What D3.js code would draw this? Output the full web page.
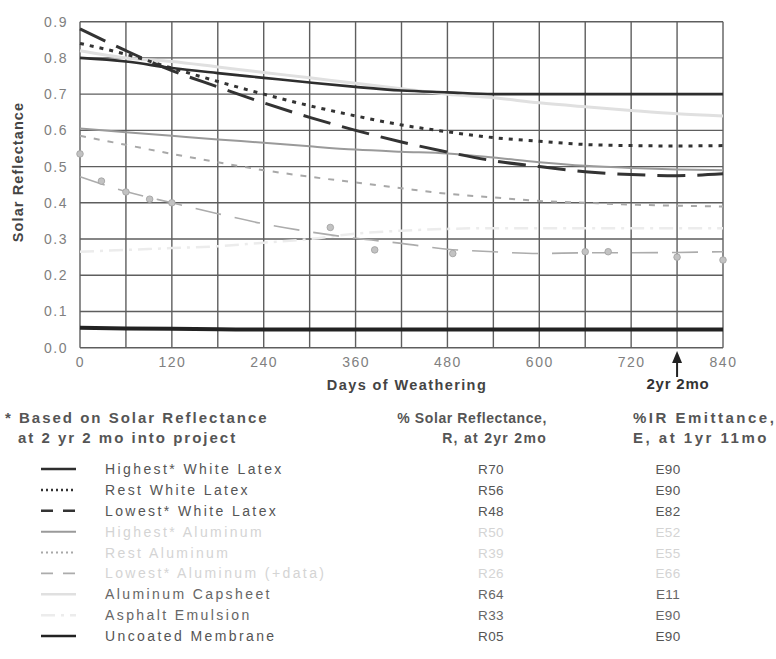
<!DOCTYPE html>
<html>
<head>
<meta charset="utf-8">
<script src="https://cdn.jsdelivr.net/npm/d3@7"></script>
<style>
  html, body { margin: 0; padding: 0; background: #fff; }
  svg { display: block; font-family: "Liberation Sans", Arial, sans-serif; }
</style>
</head>
<body>
<svg id="chart" width="776" height="659"></svg>
<script>
// ---------------- DATA ----------------
const days = [0, 60, 120, 180, 240, 300, 360, 420, 480, 540, 600, 660, 720, 780, 840];
const xTickLabels = [0, 120, 240, 360, 480, 600, 720, 840];
const yTickLabels = [0.0, 0.1, 0.2, 0.3, 0.4, 0.5, 0.6, 0.7, 0.8, 0.9];

const highestWhiteLatex = [0.80, 0.79, 0.772, 0.758, 0.745, 0.732, 0.72, 0.71, 0.705, 0.70, 0.70, 0.70, 0.70, 0.70, 0.70];
const restWhiteLatex    = [0.84, 0.81, 0.772, 0.735, 0.70, 0.668, 0.64, 0.615, 0.596, 0.58, 0.57, 0.561, 0.558, 0.557, 0.558];
const lowestWhiteLatex  = [0.88, 0.82, 0.765, 0.72, 0.676, 0.636, 0.60, 0.568, 0.54, 0.516, 0.50, 0.486, 0.478, 0.475, 0.48];
const highestAluminum   = [0.605, 0.595, 0.585, 0.575, 0.566, 0.556, 0.547, 0.541, 0.536, 0.525, 0.512, 0.502, 0.496, 0.492, 0.49];
const restAluminum      = [0.585, 0.56, 0.535, 0.512, 0.49, 0.472, 0.456, 0.44, 0.425, 0.415, 0.405, 0.40, 0.395, 0.392, 0.39];
const lowestAluminum    = [0.472, 0.431, 0.40, 0.37, 0.342, 0.32, 0.302, 0.288, 0.272, 0.265, 0.26, 0.262, 0.262, 0.263, 0.265];
const aluminumCapsheet  = [0.82, 0.80, 0.79, 0.775, 0.76, 0.745, 0.73, 0.715, 0.70, 0.69, 0.676, 0.665, 0.655, 0.646, 0.64];
const asphaltEmulsion   = [0.265, 0.27, 0.275, 0.28, 0.29, 0.30, 0.315, 0.323, 0.328, 0.33, 0.33, 0.33, 0.33, 0.33, 0.33];
const uncoatedMembrane  = [0.055, 0.053, 0.052, 0.051, 0.05, 0.05, 0.05, 0.05, 0.05, 0.05, 0.05, 0.05, 0.05, 0.05, 0.05];

// measured points of the "Lowest Aluminum (+data)" series
const lowestAlDataDays   = [0, 28, 60, 91, 120, 327, 385, 487, 660, 690, 780, 840];
const lowestAlDataValues = [0.535, 0.46, 0.43, 0.41, 0.40, 0.332, 0.27, 0.26, 0.265, 0.265, 0.25, 0.242];

const seriesNames = ["Highest* White Latex", "Rest White Latex", "Lowest* White Latex",
  "Highest* Aluminum", "Rest Aluminum", "Lowest* Aluminum (+data)",
  "Aluminum Capsheet", "Asphalt Emulsion", "Uncoated Membrane"];
const reflectanceLabels = ["R70", "R56", "R48", "R50", "R39", "R26", "R64", "R33", "R05"];
const emittanceLabels   = ["E90", "E90", "E82", "E52", "E55", "E66", "E11", "E90", "E90"];
const seriesValues = [highestWhiteLatex, restWhiteLatex, lowestWhiteLatex,
  highestAluminum, restAluminum, lowestAluminum,
  aluminumCapsheet, asphaltEmulsion, uncoatedMembrane];

// ---------------- STYLES ----------------
const styles = [
  { color: "#2e2e2e", width: 2.6, dash: null,        text: "#555" },
  { color: "#333",    width: 3,   dash: "4,6",       text: "#555" },
  { color: "#333",    width: 3,   dash: "28,12",     text: "#555" },
  { color: "#9a9a9a", width: 2,   dash: null,        text: "#d4d4d4" },
  { color: "#a8a8a8", width: 2,   dash: "6,8",       text: "#d4d4d4" },
  { color: "#acacac", width: 1.6, dash: "26,14",     text: "#d4d4d4" },
  { color: "#e0e0e0", width: 3,   dash: null,        text: "#666" },
  { color: "#ececec", width: 2.5, dash: "14,6,3,6",  text: "#666" },
  { color: "#222",    width: 4,   dash: null,        text: "#555" }
];
const drawOrder = [7, 6, 5, 4, 3, 8, 2, 1, 0];

// ---------------- CHART ----------------
const svg = d3.select("#chart");
const x = d3.scaleLinear().domain([0, 840]).range([80, 723]);
const y = d3.scaleLinear().domain([0, 0.9]).range([347.7, 21.7]);

const grid = svg.append("g");
grid.selectAll("line.h").data(d3.range(0, 10)).join("line")
  .attr("x1", x(0)).attr("x2", x(840))
  .attr("y1", d => y(d / 10)).attr("y2", d => y(d / 10))
  .attr("stroke", "#5e5e5e").attr("stroke-width", 1.4);
grid.selectAll("line.v").data(d3.range(0, 841, 60)).join("line")
  .attr("y1", y(0)).attr("y2", y(0.9))
  .attr("x1", d => x(d)).attr("x2", d => x(d))
  .attr("stroke", "#5e5e5e").attr("stroke-width", 1.4);

const xAxis = svg.append("g").attr("transform", `translate(0,${y(0)})`)
  .call(d3.axisBottom(x).tickValues(xTickLabels).tickSize(0).tickPadding(9).tickFormat(d3.format("d")));
const yAxis = svg.append("g").attr("transform", `translate(${x(0)},0)`)
  .call(d3.axisLeft(y).tickValues(yTickLabels).tickSize(0).tickPadding(12).tickFormat(d3.format(".1f")));
[xAxis, yAxis].forEach(a => {
  a.select(".domain").remove();
  a.selectAll("text").attr("fill", "#808080").style("font-size", "14px").style("letter-spacing", "1.5px");
});

const line = d3.line().x(d => x(d[0])).y(d => y(d[1])).curve(d3.curveMonotoneX);
drawOrder.forEach(i => {
  const st = styles[i];
  svg.append("path")
    .datum(days.map((d, k) => [d, seriesValues[i][k]]))
    .attr("d", line)
    .attr("fill", "none")
    .attr("stroke", st.color)
    .attr("stroke-width", st.width)
    .attr("stroke-dasharray", st.dash)
    .attr("stroke-linecap", "butt");
  if (i === 5) {
    svg.append("g").selectAll("circle")
      .data(lowestAlDataDays.map((d, k) => [d, lowestAlDataValues[k]]))
      .join("circle")
      .attr("cx", d => x(d[0])).attr("cy", d => y(d[1])).attr("r", 3.3)
      .attr("fill", "#c2c2c2").attr("stroke", "#a0a0a0").attr("stroke-width", 0.8);
  }
});

// axis titles
svg.append("text").attr("x", 407).attr("y", 390).attr("text-anchor", "middle")
  .attr("fill", "#444").style("font-weight", "bold").style("font-size", "14.5px").style("letter-spacing", "1.4px")
  .text("Days of Weathering");
svg.append("text").attr("transform", "translate(23,172) rotate(-90)").attr("text-anchor", "middle")
  .attr("fill", "#444").style("font-weight", "bold").style("font-size", "14.5px").style("letter-spacing", "1.1px")
  .text("Solar Reflectance");

// 2yr 2mo marker
const ax = x(780);
svg.append("line").attr("x1", ax).attr("x2", ax).attr("y1", 360).attr("y2", 377)
  .attr("stroke", "#222").attr("stroke-width", 2);
svg.append("path").attr("d", `M${ax},351 L${ax - 5},363 L${ax + 5},363 Z`).attr("fill", "#222");
svg.append("text").attr("x", 678).attr("y", 389).attr("text-anchor", "middle")
  .attr("fill", "#333").style("font-weight", "bold").style("font-size", "15px").style("letter-spacing", "0.8px")
  .text("2yr 2mo");

// ---------------- LEGEND ----------------
function header(txt, xx, yy, anchor, size, ls) {
  svg.append("text").attr("x", xx).attr("y", yy).attr("text-anchor", anchor)
    .attr("fill", "#555").style("font-weight", "bold").style("font-size", size)
    .style("letter-spacing", ls).text(txt);
}
header("* Based on Solar Reflectance", 5, 423, "start", "15px", "2px");
header("at 2 yr 2 mo into project", 18, 443, "start", "15px", "2px");
header("% Solar Reflectance,", 547, 423, "end", "14px", "0.6px");
header("R, at 2yr 2mo", 547, 443, "end", "14px", "1.3px");
header("%IR Emittance,", 633, 423, "start", "15px", "2.5px");
header("E, at 1yr 11mo", 633, 443, "start", "15px", "2.5px");

const rowY = d3.scaleLinear().domain([0, 8]).range([469, 636]);
seriesNames.forEach((name, i) => {
  const st = styles[i];
  const yy = rowY(i);
  svg.append("line").attr("x1", 41).attr("x2", 76).attr("y1", yy).attr("y2", yy)
    .attr("stroke", st.color).attr("stroke-width", Math.min(st.width, 2.5))
    .attr("stroke-dasharray", i === 2 || i === 5 ? "12,10" : (i === 1 || i === 4 ? "2,3" : st.dash));
  const t = (txt, xx, anchor, size, ls) => svg.append("text").attr("x", xx).attr("y", yy + 5)
    .attr("text-anchor", anchor).attr("fill", st.text)
    .style("font-size", size).style("letter-spacing", ls).text(txt);
  t(name, 105, "start", "14px", "2.4px");
  t(reflectanceLabels[i], 491, "middle", "13.5px", "0.4px");
  t(emittanceLabels[i], 668, "middle", "13.5px", "0.4px");
});
</script>
</body>
</html>
